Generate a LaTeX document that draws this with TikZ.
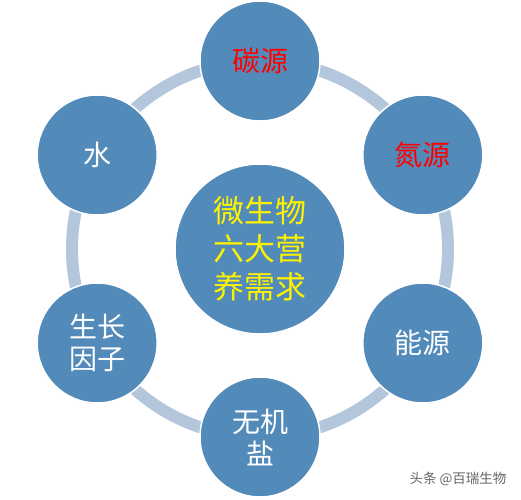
\documentclass[tikz,border=0pt]{standalone}
\usepackage{fontspec}
\newfontfamily\cjk{Noto Sans CJK SC}
\usetikzlibrary{positioning}
\definecolor{ringc}{HTML}{B4C6DB}
\definecolor{ballc}{HTML}{528BBA}
\begin{document}
\begin{tikzpicture}[x=1pt,y=1pt,
  ball/.style={circle,fill=ballc,draw=white,line width=1.5pt,minimum size=120pt,inner sep=0pt,
    align=center,text=white,font=\cjk\fontsize{28}{32}\selectfont},
  hub/.style={ball,minimum size=170pt,text=yellow,font=\cjk\fontsize{31}{38}\selectfont}]
\useasboundingbox (0,0) rectangle (521,499);
\coordinate (o) at (260,250);
\draw[ringc,line width=12pt] (o) circle (188);
\node[ball,text=red] (tan) at ([shift={(90:188)}]o) {碳源};
\node[ball,text=red] (dan) at ([shift={(30:188)}]o) {氮源};
\node[ball] (neng) at ([shift={(-30:188)}]o) {能源};
\node[ball] (yan) at ([shift={(-90:188)}]o) {无机\\盐};
\node[ball] (yinzi) at ([shift={(-150:188)}]o) {生长\\因子};
\node[ball] (shui) at ([shift={(150:188)}]o) {水};
\node[hub] (xuqiu) at (o) {微生物\\六大营\\养需求};
\node[text=black!60,font=\cjk\fontsize{13.5}{15}\selectfont,anchor=east] (mark) at (510,20) {头条 @百瑞生物};
\end{tikzpicture}
\end{document}
